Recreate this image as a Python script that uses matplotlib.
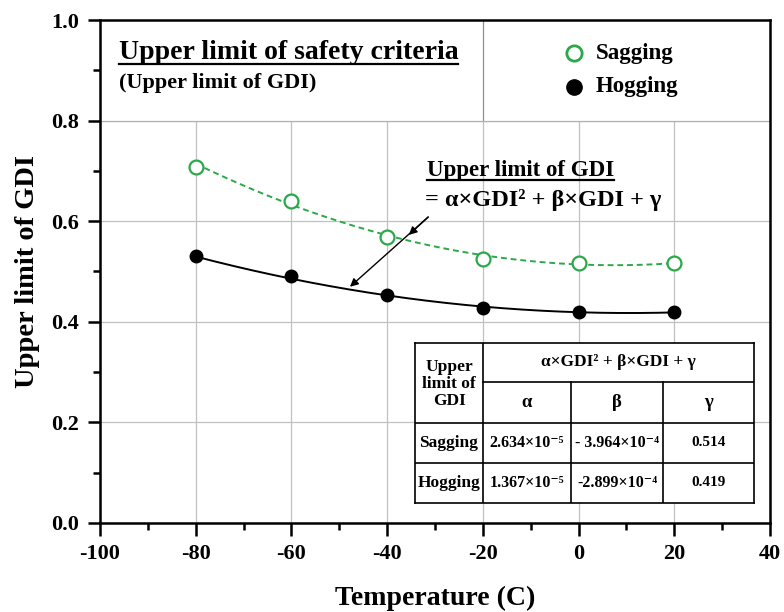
import numpy as np
import matplotlib
matplotlib.use("Agg")
import matplotlib.pyplot as plt
from matplotlib.lines import Line2D
from matplotlib.patches import Rectangle

plt.rcParams['font.family'] = ['Liberation Serif', 'DejaVu Serif']
plt.rcParams['font.weight'] = 'bold'
plt.rcParams['axes.unicode_minus'] = False

# data
temps = [-80, -60, -40, -20, 0, 20]
sagging = [0.708, 0.641, 0.569, 0.525, 0.517, 0.517]
hogging = [0.530, 0.492, 0.454, 0.428, 0.420, 0.420]

# fit coefficients listed in the table
row_names = ["Sagging", "Hogging"]
alpha = [2.634e-5, 1.367e-5]
beta = [-3.964e-4, -2.899e-4]
gamma = [0.514, 0.419]
alpha_txt = ["2.634×10⁻⁵", "1.367×10⁻⁵"]
beta_txt = ["- 3.964×10⁻⁴", "-2.899×10⁻⁴"]
gamma_txt = ["0.514", "0.419"]

green = "#2aa84a"

fig = plt.figure(figsize=(7.84, 6.12), dpi=100)
ax = fig.add_axes([100 / 784, 89 / 612, 670 / 784, 503 / 612])

t = np.linspace(min(temps), max(temps), 200)
fit_s = alpha[0] * t**2 + beta[0] * t + gamma[0]
fit_h = alpha[1] * t**2 + beta[1] * t + gamma[1]
ax.plot(t, fit_s, color=green, ls=(0, (3, 2)), lw=1.4, zorder=3)
ax.plot(t, fit_h, color="black", lw=1.4, zorder=3)
ax.plot(temps, sagging, "o", mfc="white", mec=green, mew=1.6, ms=10, ls="none", zorder=4)
ax.plot(temps, hogging, "o", color="black", ms=9, ls="none", zorder=4)

ax.set_xlim(-100, 40)
ax.set_ylim(0, 1.0)
ax.set_xticks(np.arange(-100, 41, 20))
ax.set_xticks(np.arange(-90, 40, 20), minor=True)
ax.set_yticks(np.arange(0, 1.01, 0.2))
ax.set_yticks(np.arange(0.1, 1.0, 0.2), minor=True)
ax.yaxis.set_major_formatter(matplotlib.ticker.FormatStrFormatter("%.1f"))
ax.grid(True, which="major", color="#c0c0c0", lw=0.9)
ax.set_axisbelow(True)
# header band above 0.8 hides the grid, split by one line at -20
ax.add_patch(Rectangle((-100, 0.8), 140, 0.2, facecolor="white", edgecolor="none", zorder=1))
ax.plot([-20, -20], [0.8, 1.0], color="#909090", lw=0.9, zorder=1.1)
ax.axhline(0.8, color="#b0b0b0", lw=0.9, zorder=1.1)
for s in ax.spines.values():
    s.set_linewidth(1.8)
ax.tick_params(which="major", direction="out", length=9, width=1.8, labelsize=16, pad=6)
ax.tick_params(which="minor", direction="out", length=5, width=1.8)
for lab in ax.get_xticklabels() + ax.get_yticklabels():
    lab.set_fontweight("bold")
ax.set_xlabel("Temperature (C)", fontsize=20, fontweight="bold", labelpad=16)
ax.set_ylabel("Upper limit of GDI", fontsize=20.5, fontweight="bold", labelpad=8)

# top-left labels
t1 = ax.text(0.028, 0.936, "Upper limit of safety criteria", transform=ax.transAxes,
             fontsize=20, fontweight="bold", va="center", ha="left")
ax.text(0.028, 0.875, "(Upper limit of GDI)", transform=ax.transAxes,
        fontsize=16, fontweight="bold", va="center", ha="left")

# legend
ax.plot([0.707], [0.934], "o", mfc="white", mec=green, mew=2, ms=11,
        transform=ax.transAxes, clip_on=False)
ax.plot([0.707], [0.867], "o", color="black", ms=11, transform=ax.transAxes, clip_on=False)
ax.text(0.740, 0.934, "Sagging", transform=ax.transAxes, fontsize=16.5, fontweight="bold", va="center")
ax.text(0.740, 0.867, "Hogging", transform=ax.transAxes, fontsize=16.5, fontweight="bold", va="center")

# annotation
t2 = ax.text(-31.7, 0.700, "Upper limit of GDI", fontsize=16.5, fontweight="bold", va="center")
ax.text(-32.1, 0.642, "= α×GDI² + β×GDI + γ", fontsize=17.5, fontweight="bold", va="center")
arrow_kw = dict(arrowstyle="-|>", color="black", lw=1.0, mutation_scale=12)
ax.annotate("", xy=(-35.9, 0.569), xytext=(-31.0, 0.612), arrowprops=arrow_kw, zorder=5)
ax.annotate("", xy=(-48.2, 0.466), xytext=(-31.0, 0.612), arrowprops=arrow_kw, zorder=5)

# table
tax = fig.add_axes([415 / 784, 109 / 612, 339 / 784, 160 / 612])
tax.set_xlim(415, 754)
tax.set_ylim(503, 343)
tax.set_facecolor("white")
for s in tax.spines.values():
    s.set_linewidth(1.2)
tax.set_xticks([])
tax.set_yticks([])
cols = [415, 483, 571, 663, 754]
rows = [343, 382, 423, 463, 503]
lk = dict(color="black", lw=1.2)
tax.plot([cols[1], cols[1]], [rows[0], rows[4]], **lk)
for c in cols[2:4]:
    tax.plot([c, c], [rows[1], rows[4]], **lk)
tax.plot([cols[1], cols[4]], [rows[1], rows[1]], **lk)
for r in rows[2:4]:
    tax.plot([cols[0], cols[4]], [r, r], **lk)
tk = dict(ha="center", va="center", fontweight="bold")
tax.text((cols[0] + cols[1]) / 2, (rows[0] + rows[2]) / 2 + 1, "Upper\nlimit of\nGDI",
         fontsize=12.5, linespacing=1.05, **tk)
tax.text((cols[1] + cols[4]) / 2, (rows[0] + rows[1]) / 2, "α×GDI² + β×GDI + γ", fontsize=12.5, **tk)
for i, g in enumerate(["α", "β", "γ"]):
    tax.text((cols[i + 1] + cols[i + 2]) / 2, (rows[1] + rows[2]) / 2, g, fontsize=13.5, **tk)
for j in range(2):
    yc = (rows[j + 2] + rows[j + 3]) / 2
    tax.text((cols[0] + cols[1]) / 2, yc, row_names[j], fontsize=12.5, **tk)
    tax.text((cols[1] + cols[2]) / 2, yc, alpha_txt[j], fontsize=11.5, **tk)
    tax.text((cols[2] + cols[3]) / 2, yc, beta_txt[j], fontsize=11.5, **tk)
    tax.text((cols[3] + cols[4]) / 2, yc, gamma_txt[j], fontsize=11, **tk)

# underline two labels
fig.canvas.draw()
rend = fig.canvas.get_renderer()
inv = fig.transFigure.inverted()
for txt in (t1, t2):
    bb = txt.get_window_extent(rend)
    (x0, y0), (x1, _) = inv.transform([[bb.x0, bb.y0 + 1], [bb.x1, bb.y0]])
    fig.add_artist(Line2D([x0, x1], [y0, y0], color="black", lw=1.6, transform=fig.transFigure))

fig.savefig("out.png", dpi=100)
